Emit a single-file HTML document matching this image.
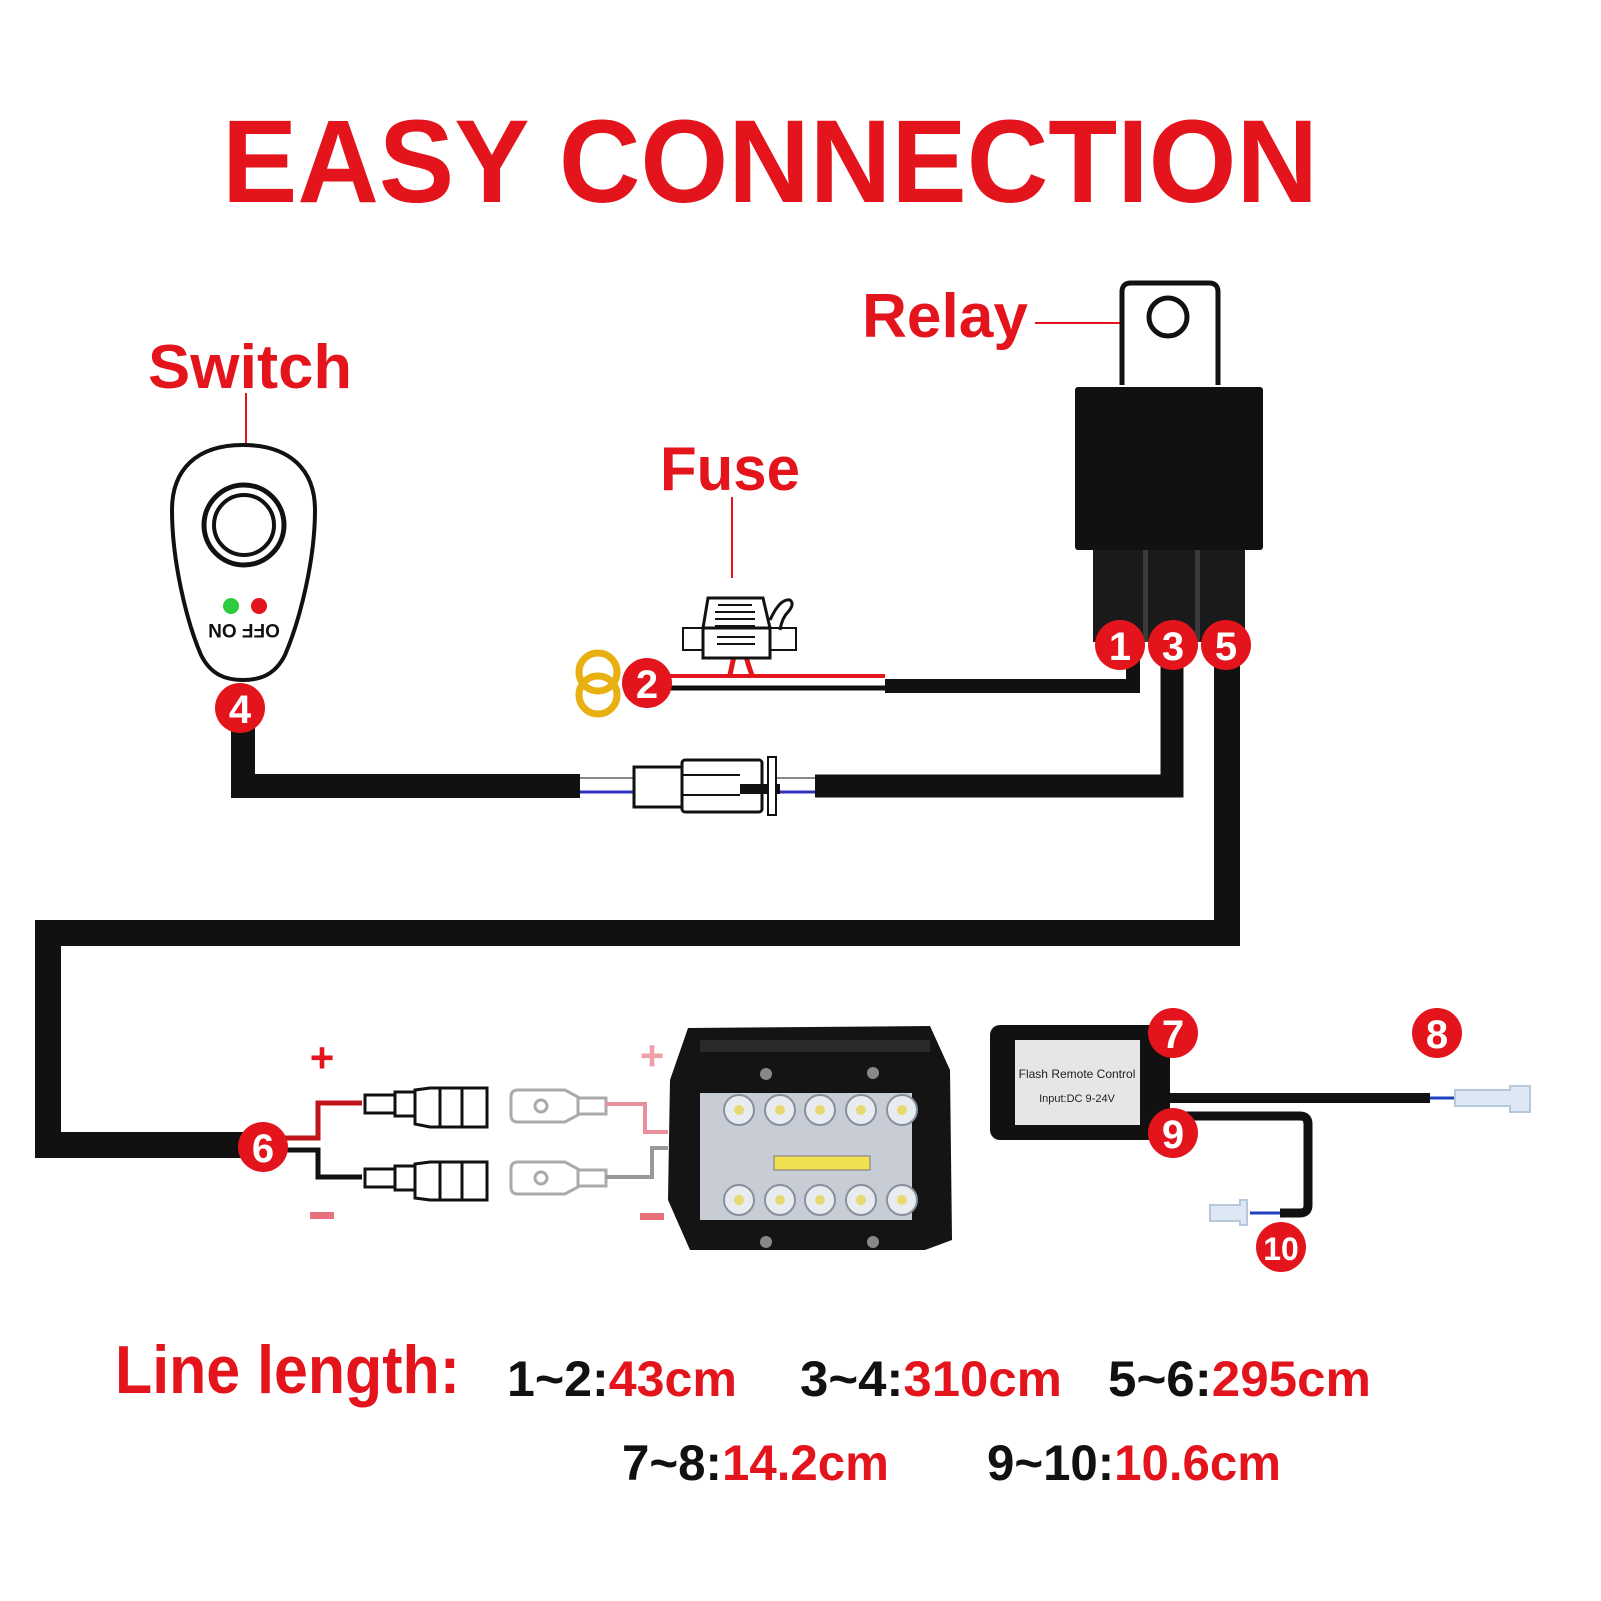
<!DOCTYPE html>
<html><head><meta charset="utf-8"><style>html,body{margin:0;padding:0;background:#fff}svg{display:block}</style></head><body>
<svg width="1601" height="1601" viewBox="0 0 1601 1601" xmlns="http://www.w3.org/2000/svg" font-family="Liberation Sans, Arial, sans-serif">
<rect width="1601" height="1601" fill="#fff"/>
<text x="222" y="202" font-size="118" font-weight="bold" fill="#e3141c" textLength="1096" lengthAdjust="spacingAndGlyphs">EASY CONNECTION</text>

<!-- Relay -->
<text x="862" y="337" font-size="62" font-weight="bold" fill="#e3141c" textLength="166" lengthAdjust="spacingAndGlyphs">Relay</text>
<line x1="1035" y1="323" x2="1135" y2="323" stroke="#e3141c" stroke-width="2"/>
<path d="M1122 385 V292 Q1122 283 1131 283 H1209 Q1218 283 1218 292 V385" fill="#fff" stroke="#111" stroke-width="5"/>
<circle cx="1168" cy="317" r="19" fill="#fff" stroke="#111" stroke-width="5"/>
<rect x="1075" y="387" width="188" height="163" rx="3" fill="#111"/>
<rect x="1093" y="550" width="152" height="92" fill="#1a1a1a"/>
<rect x="1143" y="550" width="5" height="92" fill="#3a3a3a"/>
<rect x="1195" y="550" width="5" height="92" fill="#3a3a3a"/>

<!-- wire 1-2 -->
<path d="M1133 660 V686 H885" fill="none" stroke="#111" stroke-width="14"/>
<line x1="885" y1="676" x2="670" y2="676" stroke="#e3141c" stroke-width="4"/>
<line x1="885" y1="688" x2="640" y2="688" stroke="#111" stroke-width="5"/>
<!-- fuse -->
<text x="660" y="490" font-size="62" font-weight="bold" fill="#e3141c" textLength="140" lengthAdjust="spacingAndGlyphs">Fuse</text>
<line x1="732" y1="497" x2="732" y2="578" stroke="#e3141c" stroke-width="2"/>
<path d="M730 675 Q732 665 735 652 M745 652 Q748 665 752 675" fill="none" stroke="#e3141c" stroke-width="5"/>
<path d="M703 628 L708 598 H763 L770 628 Z" fill="#fff" stroke="#111" stroke-width="3"/>
<rect x="683" y="628" width="113" height="22" fill="#fff" stroke="#111" stroke-width="2"/>
<rect x="703" y="628" width="67" height="30" fill="#fff" stroke="#111" stroke-width="3"/>
<path d="M715 612H755M715 619H755M715 626H755M718 605H752M717 637H755M717 644H755" stroke="#111" stroke-width="2"/>
<path d="M770 620 Q780 598 790 600 Q795 604 788 612 Q782 618 780 630" fill="none" stroke="#111" stroke-width="3"/>
<!-- rings -->
<circle cx="598" cy="672" r="19" fill="none" stroke="#e8b010" stroke-width="7"/>
<circle cx="598" cy="695" r="19" fill="none" stroke="#e8b010" stroke-width="7"/>

<!-- wire 3-4 -->
<path d="M1172 660 V786 H815" fill="none" stroke="#111" stroke-width="23"/>
<path d="M243 710 V786 H580" fill="none" stroke="#111" stroke-width="24"/>
<line x1="580" y1="778" x2="640" y2="778" stroke="#888" stroke-width="2"/>
<line x1="580" y1="792" x2="640" y2="792" stroke="#3030c0" stroke-width="3"/>
<line x1="770" y1="778" x2="815" y2="778" stroke="#888" stroke-width="2"/>
<line x1="770" y1="792" x2="815" y2="792" stroke="#3030c0" stroke-width="3"/>
<rect x="634" y="767" width="48" height="40" fill="#fff" stroke="#111" stroke-width="3"/>
<rect x="682" y="760" width="80" height="52" rx="3" fill="#fff" stroke="#111" stroke-width="3"/>
<path d="M682 775H740M682 795H740" stroke="#111" stroke-width="2"/>
<rect x="740" y="784" width="40" height="10" fill="#111"/>
<rect x="768" y="757" width="8" height="58" fill="#fff" stroke="#111" stroke-width="2"/>

<!-- switch -->
<text x="148" y="388" font-size="62" font-weight="bold" fill="#e3141c" textLength="204" lengthAdjust="spacingAndGlyphs">Switch</text>
<line x1="246" y1="393" x2="246" y2="525" stroke="#e3141c" stroke-width="2"/>
<path d="M243 445 C290 445 315 470 315 510 C315 560 300 620 285 655 C275 675 260 680 243 680 C226 680 211 675 201 655 C186 620 172 560 172 510 C172 470 196 445 243 445 Z" fill="#fff" stroke="#111" stroke-width="4"/>
<circle cx="244" cy="525" r="40" fill="#fff" stroke="#111" stroke-width="5"/>
<circle cx="244" cy="525" r="30" fill="#fff" stroke="#111" stroke-width="4"/>
<circle cx="231" cy="606" r="8" fill="#2ecc40"/>
<circle cx="259" cy="606" r="8" fill="#e3141c"/>
<text x="244" y="638" font-size="19" font-weight="bold" fill="#111" text-anchor="middle" transform="rotate(180 244 631)">OFF ON</text>

<!-- wire 5-6 -->
<path d="M1227 660 V933 H48 V1145 H250" fill="none" stroke="#111" stroke-width="26"/>
<path d="M285 1138 H318 V1103 H362" fill="none" stroke="#c0141c" stroke-width="5"/>
<path d="M285 1150 H318 V1177 H362" fill="none" stroke="#111" stroke-width="5"/>
<text x="322" y="1072" font-size="42" font-weight="bold" fill="#e3141c" text-anchor="middle">+</text>
<rect x="310" y="1212" width="24" height="7" fill="#e8707a"/>
<g fill="#fff" stroke="#111" stroke-width="3">
<rect x="365" y="1095" width="30" height="18"/><rect x="395" y="1092" width="20" height="24"/><path d="M415 1090 L430 1088 H487 V1127 H430 L415 1124 Z"/><path d="M440 1088V1127M462 1088V1127"/>
<rect x="365" y="1169" width="30" height="18"/><rect x="395" y="1166" width="20" height="24"/><path d="M415 1164 L430 1162 H487 V1200 H430 L415 1198 Z"/><path d="M440 1162V1200M462 1162V1200"/>
</g>
<g fill="#fff" stroke="#aaa" stroke-width="3">
<path d="M518 1090 H565 L578 1097 V1115 L565 1122 H518 Q511 1122 511 1115 V1097 Q511 1090 518 1090 Z"/><rect x="578" y="1098" width="28" height="16"/><circle cx="541" cy="1106" r="6"/>
<path d="M518 1162 H565 L578 1169 V1187 L565 1194 H518 Q511 1194 511 1187 V1169 Q511 1162 518 1162 Z"/><rect x="578" y="1170" width="28" height="16"/><circle cx="541" cy="1178" r="6"/>
</g>
<path d="M606 1104 H645 V1132 H668" fill="none" stroke="#e8909a" stroke-width="4"/>
<path d="M606 1177 H652 V1148 H668" fill="none" stroke="#999" stroke-width="4"/>
<text x="652" y="1070" font-size="42" font-weight="bold" fill="#f0a0a8" text-anchor="middle">+</text>
<rect x="640" y="1213" width="24" height="7" fill="#e8707a"/>

<!-- light bar -->
<path d="M688 1028 L930 1026 L950 1070 L952 1240 L925 1250 L690 1250 L668 1200 L670 1080 Z" fill="#141414"/>
<rect x="700" y="1040" width="230" height="12" fill="#2a2a2a"/>
<rect x="700" y="1093" width="212" height="127" fill="#c8ccd4"/>
<g fill="#e8ecf0" stroke="#8890a0" stroke-width="2">
<circle cx="739" cy="1110" r="15"/><circle cx="780" cy="1110" r="15"/><circle cx="820" cy="1110" r="15"/><circle cx="861" cy="1110" r="15"/><circle cx="902" cy="1110" r="15"/>
<circle cx="739" cy="1200" r="15"/><circle cx="780" cy="1200" r="15"/><circle cx="820" cy="1200" r="15"/><circle cx="861" cy="1200" r="15"/><circle cx="902" cy="1200" r="15"/>
</g>
<g fill="#e8d870"><circle cx="739" cy="1110" r="5"/><circle cx="780" cy="1110" r="5"/><circle cx="820" cy="1110" r="5"/><circle cx="861" cy="1110" r="5"/><circle cx="902" cy="1110" r="5"/><circle cx="739" cy="1200" r="5"/><circle cx="780" cy="1200" r="5"/><circle cx="820" cy="1200" r="5"/><circle cx="861" cy="1200" r="5"/><circle cx="902" cy="1200" r="5"/></g>
<rect x="774" y="1156" width="96" height="14" fill="#f0e050" stroke="#777" stroke-width="1"/>
<circle cx="766" cy="1074" r="6" fill="#888"/><circle cx="873" cy="1073" r="6" fill="#888"/>
<circle cx="766" cy="1242" r="6" fill="#888"/><circle cx="873" cy="1242" r="6" fill="#888"/>

<!-- flash remote -->
<rect x="990" y="1025" width="180" height="115" rx="10" fill="#111"/>
<rect x="1015" y="1040" width="125" height="85" fill="#e6e6e6"/>
<text x="1077" y="1078" font-size="12" fill="#222" text-anchor="middle">Flash Remote Control</text>
<text x="1077" y="1102" font-size="11" fill="#222" text-anchor="middle">Input:DC 9-24V</text>
<line x1="1170" y1="1098" x2="1430" y2="1098" stroke="#111" stroke-width="10"/>
<line x1="1430" y1="1098" x2="1455" y2="1098" stroke="#2040c0" stroke-width="3"/>
<path d="M1455 1090 H1510 V1086 H1530 V1112 H1510 V1106 H1455 Z" fill="#dde8f4" stroke="#b8c8dc" stroke-width="2"/>
<path d="M1170 1116 H1300 Q1308 1116 1308 1124 V1205 Q1308 1213 1300 1213 H1280" fill="none" stroke="#111" stroke-width="9"/>
<line x1="1280" y1="1213" x2="1250" y2="1213" stroke="#2040c0" stroke-width="3"/>
<path d="M1210 1205 H1240 V1200 H1247 V1225 H1240 V1221 H1210 Z" fill="#dde8f4" stroke="#b8c8dc" stroke-width="2"/>

<!-- number badges -->
<g font-weight="bold" font-size="40" fill="#fff" text-anchor="middle">
<circle cx="1120" cy="645" r="25" fill="#e3141c"/><text x="1120" y="660">1</text>
<circle cx="1173" cy="645" r="25" fill="#e3141c"/><text x="1173" y="660">3</text>
<circle cx="1226" cy="645" r="25" fill="#e3141c"/><text x="1226" y="660">5</text>
<circle cx="647" cy="683" r="25" fill="#e3141c"/><text x="647" y="698">2</text>
<circle cx="240" cy="708" r="25" fill="#e3141c"/><text x="240" y="723">4</text>
<circle cx="263" cy="1147" r="25" fill="#e3141c"/><text x="263" y="1162">6</text>
<circle cx="1173" cy="1033" r="25" fill="#e3141c"/><text x="1173" y="1048">7</text>
<circle cx="1173" cy="1133" r="25" fill="#e3141c"/><text x="1173" y="1148">9</text>
<circle cx="1437" cy="1033" r="25" fill="#e3141c"/><text x="1437" y="1048">8</text>
<circle cx="1281" cy="1247" r="25" fill="#e3141c"/><text x="1281" y="1260" font-size="32">10</text>
</g>

<!-- line lengths -->
<text x="115" y="1393" font-size="68" font-weight="bold" fill="#e3141c" textLength="345" lengthAdjust="spacingAndGlyphs">Line length:</text>
<g font-size="50" font-weight="bold">
<text x="507" y="1396" textLength="230" lengthAdjust="spacingAndGlyphs"><tspan fill="#111">1~2:</tspan><tspan fill="#e3141c">43cm</tspan></text>
<text x="800" y="1396" textLength="262" lengthAdjust="spacingAndGlyphs"><tspan fill="#111">3~4:</tspan><tspan fill="#e3141c">310cm</tspan></text>
<text x="1108" y="1396" textLength="263" lengthAdjust="spacingAndGlyphs"><tspan fill="#111">5~6:</tspan><tspan fill="#e3141c">295cm</tspan></text>
<text x="622" y="1480" textLength="267" lengthAdjust="spacingAndGlyphs"><tspan fill="#111">7~8:</tspan><tspan fill="#e3141c">14.2cm</tspan></text>
<text x="987" y="1480" textLength="294" lengthAdjust="spacingAndGlyphs"><tspan fill="#111">9~10:</tspan><tspan fill="#e3141c">10.6cm</tspan></text>
</g>
</svg>
</body></html>
